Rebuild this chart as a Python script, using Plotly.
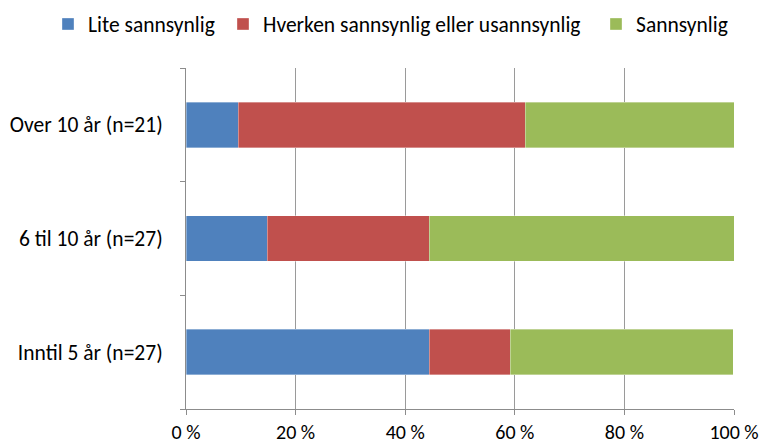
import plotly.graph_objects as go

categories = ["Inntil 5 år (n=27)", "6 til 10 år (n=27)", "Over 10 år (n=21)"]
lite = [44.4, 14.8, 9.5]
hverken = [14.8, 29.6, 52.4]
sannsynlig = [40.7, 55.6, 38.1]
series_names = ["Lite sannsynlig", "Hverken sannsynlig eller usannsynlig", "Sannsynlig"]
colors = ["#4F81BD", "#C0504D", "#9BBB59"]
x_ticks = [0, 20, 40, 60, 80, 100]

FONT = "Carlito, 'Liberation Sans Narrow', 'Liberation Sans', Arial, sans-serif"
W, H = 763, 447
legend_ids = ["legend", "legend2", "legend3"]
legend_text_x = [88, 263, 636]

fig = go.Figure()
for name, vals, c, lid in zip(series_names, [lite, hverken, sannsynlig], colors, legend_ids):
    fig.add_trace(go.Bar(
        y=categories, x=vals, name=name, orientation="h", legend=lid, showlegend=True,
        marker=dict(color=c, line=dict(color="rgba(255,255,255,0.5)", width=0.7)),
    ))

legend_layout = {}
for lid, tx in zip(legend_ids, legend_text_x):
    legend_layout[lid] = dict(
        orientation="h", xref="container", yref="container",
        x=(tx - 40) / W, xanchor="left", y=1 - 24 / H, yanchor="middle",
        font=dict(size=21.5, family=FONT), bgcolor="rgba(0,0,0,0)",
        itemwidth=30,
    )

fig.update_layout(
    barmode="stack",
    bargap=0.6,
    width=W, height=H,
    showlegend=True,
    margin=dict(l=186, r=29, t=68, b=38),
    paper_bgcolor="white", plot_bgcolor="white",
    font=dict(family=FONT, size=21.5, color="black"),
    xaxis=dict(
        range=[0, 100], tickvals=x_ticks, ticktext=[f"{v} %" for v in x_ticks],
        tickfont=dict(size=20),
        showgrid=True, gridcolor="#9A9A9A", gridwidth=1,
        showline=True, linecolor="#8C8C8C", linewidth=1,
        ticks="outside", ticklen=5, tickcolor="#8C8C8C",
        zeroline=False, fixedrange=True, automargin=False,
    ),
    yaxis=dict(
        type="category", categoryorder="array", categoryarray=categories,
        showline=True, linecolor="#8C8C8C", linewidth=1,
        ticks="outside", ticklen=5, tickcolor="#8C8C8C", tickson="boundaries",
        showgrid=False, ticklabelstandoff=18, automargin=False, fixedrange=True,
    ),
    **legend_layout,
)

fig.write_html(
    "out.html",
    config={"displayModeBar": False, "staticPlot": True},
    post_script="document.body.style.margin='0';document.body.style.overflow='hidden';",
)
